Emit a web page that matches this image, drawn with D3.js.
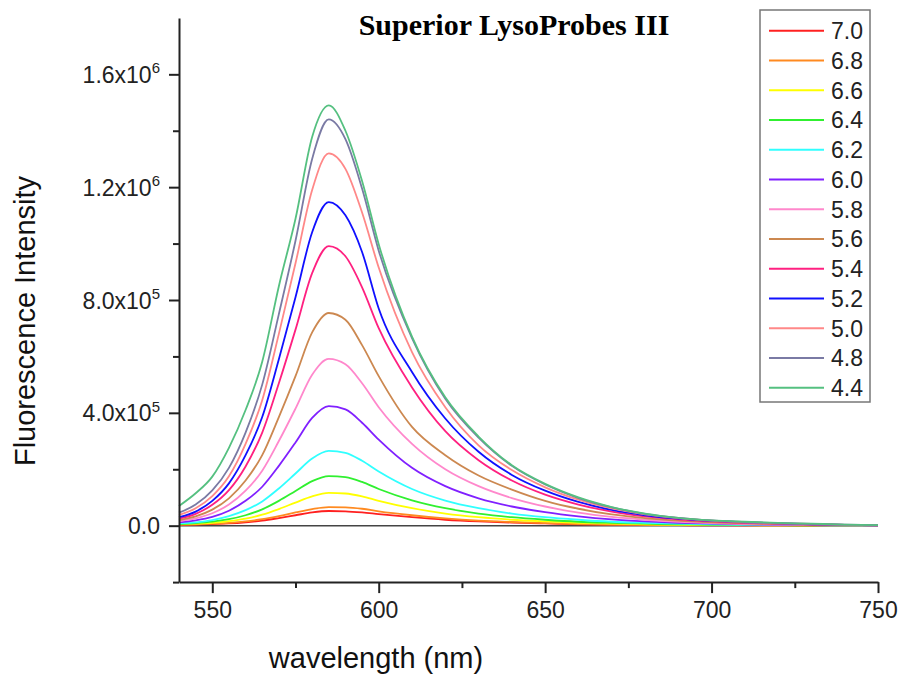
<!DOCTYPE html>
<html><head><meta charset="utf-8">
<script src="https://cdn.jsdelivr.net/npm/d3@7"></script>
<style>html,body{margin:0;padding:0;background:#fff}svg{display:block}</style>
</head><body><svg id="chart" width="902" height="686"></svg>
<script>
// wavelength (nm)
const wavelength = [540,545,550,555,560,565,570,575,580,585,590,595,600,610,620,630,640,650,660,670,680,690,700,710,720,730,740,750];
// fluorescence intensity in units of 10^3
const pH70 = [3,4,6,8,12,18,27,37,47,52,51,47,41,30,21,15,11,8,5,4,3,2,1,1,1,0,0,0];
const pH68 = [4,5,7,10,15,23,34,47,59,66,65,60,51,37,26,18,13,9,6,4,3,2,2,1,1,1,0,0];
const pH66 = [5,7,10,16,25,39,59,82,104,116,114,104,88,62,43,30,21,15,10,7,5,3,2,2,1,1,0,0];
const pH64 = [6,9,14,23,37,58,88,123,158,176,172,155,130,90,62,43,30,21,14,10,7,5,3,2,2,1,1,0];
const pH62 = [8,12,20,34,55,86,132,185,238,265,258,230,192,130,89,62,43,30,21,14,10,7,5,3,2,2,1,0];
const pH60 = [12,19,31,53,88,138,212,295,382,424,412,365,305,205,140,97,68,48,33,22,15,10,7,5,3,2,1,1];
const pH58 = [16,26,44,75,124,195,300,415,535,591,572,505,420,290,200,140,98,68,46,31,21,14,9,6,4,3,2,1];
const pH56 = [20,33,57,97,160,250,385,530,685,754,730,640,530,350,250,178,128,88,60,40,27,18,12,8,6,4,2,1];
const pH54 = [25,42,74,126,210,330,505,695,895,991,955,845,700,490,335,232,160,110,75,50,33,22,15,10,7,5,3,1];
const pH52 = [30,50,88,150,250,385,590,810,1040,1147,1100,970,770,545,380,262,180,124,84,56,37,25,17,12,8,5,3,1];
const pH50 = [38,62,105,175,290,445,680,930,1190,1320,1265,1110,915,615,420,285,197,136,92,61,40,27,18,12,8,6,3,1];
const pH48 = [46,75,125,205,330,500,750,1010,1300,1440,1370,1195,975,665,450,312,212,146,98,65,42,28,19,13,9,6,4,2];
const pH44 = [70,115,174,276,410,581,849,1088,1378,1490,1400,1222,998,670,455,316,214,148,100,66,43,28,19,14,10,7,4,2];

const pHLabels = ["7.0","6.8","6.6","6.4","6.2","6.0","5.8","5.6","5.4","5.2","5.0","4.8","4.4"];
const seriesColors = ["#ff2020","#ff8a20","#ffff00","#30f030","#30ffff","#8020ff","#ff88cc","#cc8850","#ff2080","#1010ff","#ff8888","#7a7aa4","#55c080"];
const seriesValues = [pH70,pH68,pH66,pH64,pH62,pH60,pH58,pH56,pH54,pH52,pH50,pH48,pH44];

const xTicks = [550,600,650,700,750];
const xMinorTicks = [575,625,675,725];
const yTicks = [0,400,800,1200,1600];
const yTickLabels = [["0.0",""],["4.0x10","5"],["8.0x10","5"],["1.2x10","6"],["1.6x10","6"]];
const yMinorTicks = [-200,200,600,1000,1400];

const svg = d3.select("#chart");
const font = "'Liberation Sans', Arial, sans-serif";
const x = d3.scaleLinear().domain([540,750]).range([179,878]);
const y = d3.scaleLinear().domain([-200,1800]).range([582.1,17.9]);

// zero line
svg.append("line").attr("x1",x(540)).attr("x2",x(750)).attr("y1",y(0)).attr("y2",y(0))
  .attr("stroke","#444").attr("stroke-width",1.6);

// curves
const line = d3.line().x((d,i)=>x(wavelength[i])).y(d=>y(d)).curve(d3.curveMonotoneX);
svg.append("g").selectAll("path").data(seriesValues).join("path")
  .attr("d",line).attr("fill","none")
  .attr("stroke",(d,i)=>seriesColors[i]).attr("stroke-width",1.8);

// x axis
const gx = svg.append("g").attr("transform",`translate(0,${y(-200)})`)
  .call(d3.axisBottom(x).tickValues(xTicks).tickSize(11).tickSizeOuter(0).tickPadding(9));
gx.select(".domain").attr("stroke","#222").attr("stroke-width",2);
gx.selectAll(".tick line").attr("stroke","#222").attr("stroke-width",2);
gx.selectAll(".tick text").attr("font-family",font).attr("font-size",23).attr("fill","#222");
const gxm = svg.append("g").attr("transform",`translate(0,${y(-200)})`)
  .call(d3.axisBottom(x).tickValues(xMinorTicks).tickSize(6).tickFormat(()=>""));
gxm.select(".domain").remove();
gxm.selectAll(".tick line").attr("stroke","#222").attr("stroke-width",2);

// y axis
const gy = svg.append("g").attr("transform",`translate(${x(540)},0)`)
  .call(d3.axisLeft(y).tickValues(yTicks).tickSize(10).tickSizeOuter(0).tickFormat(()=>""));
gy.select(".domain").attr("stroke","#222").attr("stroke-width",2);
gy.selectAll(".tick line").attr("stroke","#222").attr("stroke-width",2);
gy.selectAll(".tick text").remove();
const gym = svg.append("g").attr("transform",`translate(${x(540)},0)`)
  .call(d3.axisLeft(y).tickValues(yMinorTicks).tickSize(6).tickFormat(()=>""));
gym.select(".domain").remove();
gym.selectAll(".tick line").attr("stroke","#222").attr("stroke-width",2);

const yl = svg.append("g");
yTicks.forEach((v,i)=>{
  const t = yl.append("text").attr("x",160).attr("y",y(v)+8.5)
    .attr("text-anchor","end").attr("font-family",font).attr("font-size",23).attr("fill","#222");
  t.append("tspan").text(yTickLabels[i][0]);
  if (yTickLabels[i][1]) t.append("tspan").attr("dy",-9.5).attr("font-size",15).text(yTickLabels[i][1]);
});

// axis titles
svg.append("text").attr("x",376).attr("y",668).attr("text-anchor","middle")
  .attr("font-family",font).attr("font-size",29).attr("fill","#111").text("wavelength (nm)");
svg.append("text").attr("transform","translate(35,321) rotate(-90)").attr("text-anchor","middle")
  .attr("font-family",font).attr("font-size",29).attr("fill","#111").text("Fluorescence Intensity");

// title
svg.append("text").attr("x",514).attr("y",35).attr("text-anchor","middle")
  .attr("font-family","'Liberation Serif','Times New Roman',serif").attr("font-weight","bold")
  .attr("font-size",30).attr("fill","#000").text("Superior LysoProbes III");

// legend
const lg = svg.append("g");
lg.append("rect").attr("x",760).attr("y",10).attr("width",110).attr("height",392)
  .attr("fill","#fff").attr("stroke","#777").attr("stroke-width",1.5);
pHLabels.forEach((lab,i)=>{
  const ly = 30.7 + i*29.75;
  lg.append("line").attr("x1",769).attr("x2",824).attr("y1",ly).attr("y2",ly)
    .attr("stroke",seriesColors[i]).attr("stroke-width",2);
  lg.append("text").attr("x",831).attr("y",ly+8.5).attr("font-family",font).attr("font-size",23)
    .attr("fill","#222").text(lab);
});
</script></body></html>
